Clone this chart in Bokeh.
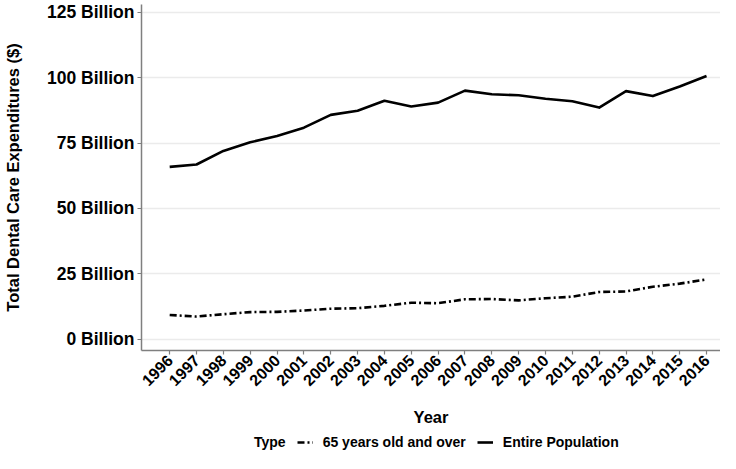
import math
from bokeh.plotting import figure
from bokeh.layouts import column
from bokeh.models import Range1d, FixedTicker, Legend, LegendItem
from bokeh.embed import file_html
from bokeh.resources import INLINE

# ---- data (billions of dollars) ----
years = list(range(1996, 2017))
entire_population = [65.9, 66.8, 72.0, 75.3, 77.7, 80.9, 85.8, 87.4, 91.2, 89.0, 90.5,
                     95.1, 93.7, 93.3, 92.0, 91.0, 88.6, 94.9, 93.0, 96.7, 100.7]
age_65_over = [9.2, 8.6, 9.5, 10.3, 10.4, 10.9, 11.6, 11.8, 12.7, 13.9, 13.7,
               15.2, 15.3, 14.8, 15.6, 16.2, 18.0, 18.2, 20.0, 21.2, 22.8]
y_ticks = [0, 25, 50, 75, 100, 125]
y_tick_labels = ["0 Billion", "25 Billion", "50 Billion", "75 Billion", "100 Billion", "125 Billion"]
x_tick_labels = [str(y) for y in years]
series_names = ["65 years old and over", "Entire Population"]
legend_title = "Type"

FONT = "Liberation Sans"
SENIOR_STYLE = dict(line_color="black", line_width=2.6, line_dash="7 3 2 3")
ENTIRE_STYLE = dict(line_color="black", line_width=2.6, line_join="round")

p = figure(width=720, height=430, output_backend="svg", toolbar_location=None,
           x_range=Range1d(1994.95, 2016.52), y_range=Range1d(-4.40, 128.06),
           min_border_left=139, min_border_right=0, min_border_top=4, min_border_bottom=80)
p.outline_line_color = None
p.background_fill_color = "white"
p.border_fill_color = "white"

p.line(years, age_65_over, **SENIOR_STYLE)
p.line(years, entire_population, **ENTIRE_STYLE)

# grid
p.xgrid.visible = False
p.ygrid.ticker = FixedTicker(ticks=y_ticks)
p.ygrid.grid_line_color = "#EBEBEB"
p.ygrid.grid_line_width = 1.3

# y axis
ya = p.yaxis[0]
ya.ticker = FixedTicker(ticks=y_ticks)
ya.major_label_overrides = {t: l for t, l in zip(y_ticks, y_tick_labels)}
ya.major_label_text_font = FONT
ya.major_label_text_font_style = "bold"
ya.major_label_text_font_size = "17.5px"
ya.major_label_text_color = "black"
ya.major_label_standoff = 3
ya.axis_line_color = "#7F7F7F"
ya.axis_line_width = 1.5
ya.major_tick_line_color = "#7F7F7F"
ya.major_tick_line_width = 1.2
ya.major_tick_out = 4
ya.major_tick_in = 0
ya.minor_tick_line_color = None
ya.axis_label = "Total Dental Care Expenditures ($)"
ya.axis_label_text_font = FONT
ya.axis_label_text_font_style = "bold"
ya.axis_label_text_font_size = "16.5px"
ya.axis_label_text_color = "black"
ya.axis_label_standoff = 22

# x axis
xa = p.xaxis[0]
xa.ticker = FixedTicker(ticks=years)
xa.major_label_overrides = {y: l for y, l in zip(years, x_tick_labels)}
xa.major_label_orientation = math.pi / 4
xa.major_label_text_font = FONT
xa.major_label_text_font_style = "bold"
xa.major_label_text_font_size = "16px"
xa.major_label_text_color = "black"
xa.major_label_standoff = 3
xa.axis_line_color = "#7F7F7F"
xa.axis_line_width = 1.5
xa.major_tick_line_color = "#7F7F7F"
xa.major_tick_line_width = 1.2
xa.major_tick_out = 4
xa.major_tick_in = 0
xa.minor_tick_line_color = None
xa.axis_label = "Year"
xa.axis_label_text_font = FONT
xa.axis_label_text_font_style = "bold"
xa.axis_label_text_font_size = "16.5px"
xa.axis_label_text_color = "black"
xa.axis_label_standoff = 14

# legend strip (separate small figure under the chart; frames are aligned by the column)
lg = figure(width=720, height=23, output_backend="svg", toolbar_location=None,
            x_range=Range1d(0, 1), y_range=Range1d(0, 1),
            x_axis_location=None, y_axis_location=None,
            min_border_left=139, min_border_right=0, min_border_top=0, min_border_bottom=0)
lg.outline_line_color = None
lg.xgrid.visible = False
lg.ygrid.visible = False
lg.border_fill_color = "white"
lg.background_fill_color = "white"
r_title = lg.line([-5, -4], [-5, -4], line_alpha=0)
r_senior = lg.line([-5, -4], [-5, -4], **SENIOR_STYLE)
r_entire = lg.line([-5, -4], [-5, -4], **ENTIRE_STYLE)

items = [LegendItem(label=legend_title, renderers=[r_title]),
         LegendItem(label=series_names[0], renderers=[r_senior]),
         LegendItem(label=series_names[1], renderers=[r_entire])]
legend = Legend(items=items, orientation="horizontal", location=(87, 3),
                glyph_width=16, glyph_height=16, label_height=16, label_standoff=10,
                spacing=11, padding=0, margin=0,
                label_text_font=FONT, label_text_font_style="bold",
                label_text_font_size="14px", label_text_color="black",
                background_fill_alpha=0, border_line_color=None)
lg.add_layout(legend, "center")

layout = column(p, lg, spacing=0)
open("out.html", "w").write(file_html(layout, INLINE))
